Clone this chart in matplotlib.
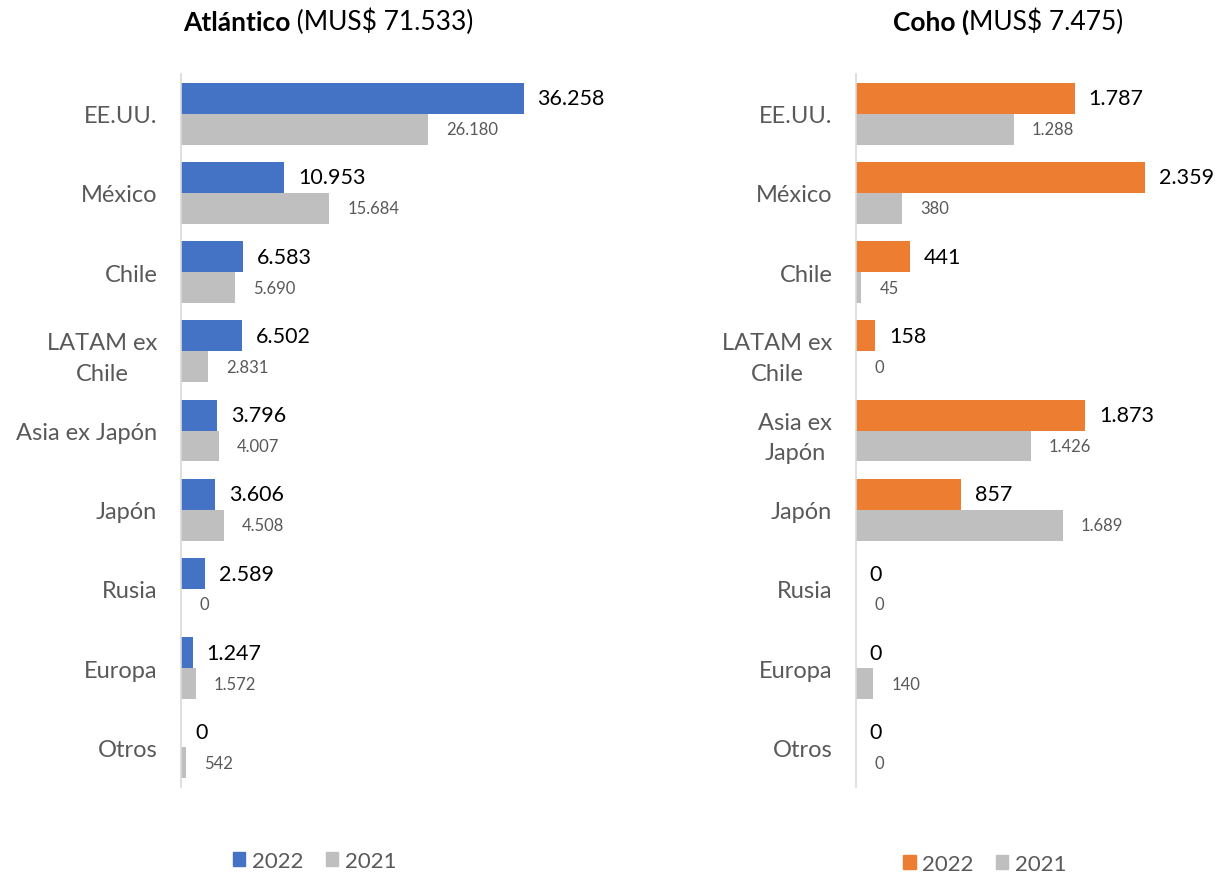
import matplotlib.pyplot as plt
import numpy as np
from matplotlib.patches import Patch

plt.rcParams['font.family'] = ['Lato', 'DejaVu Sans']

categories = ['EE.UU.', 'México', 'Chile', 'LATAM ex\nChile', 'Asia ex Japón',
              'Japón', 'Rusia', 'Europa', 'Otros']
categories_coho = ['EE.UU.', 'México', 'Chile', 'LATAM ex\nChile', 'Asia ex\nJapón',
                   'Japón', 'Rusia', 'Europa', 'Otros']
atl_2022 = [36258, 10953, 6583, 6502, 3796, 3606, 2589, 1247, 0]
atl_2021 = [26180, 15684, 5690, 2831, 4007, 4508, 0, 1572, 542]
coho_2022 = [1787, 2359, 441, 158, 1873, 857, 0, 0, 0]
coho_2021 = [1288, 380, 45, 0, 1426, 1689, 0, 140, 0]

BLUE = '#4472C4'
ORANGE = '#ED7D31'
GREY = '#BFBFBF'
TXT = '#595959'


def fmt(v):
    return f'{v:,}'.replace(',', '.')


def draw(ax, cats, v22, v21, color, xmax):
    y = np.arange(len(cats))
    h = 0.39
    b1 = ax.barh(y - h / 2, v22, height=h, color=color)
    b2 = ax.barh(y + h / 2, v21, height=h, color=GREY)
    ax.bar_label(b1, labels=[fmt(v) for v in v22], padding=10, fontsize=15.5, color='black')
    ax.bar_label(b2, labels=[fmt(v) for v in v21], padding=13, fontsize=12, color=TXT)
    ax.set_xlim(0, xmax)
    ax.set_ylim(len(cats) - 0.5, -0.5)
    ax.set_yticks(y)
    ax.set_yticklabels(cats, fontsize=17, color=TXT, ha='right', multialignment='center',
                       linespacing=1.55)
    ax.tick_params(axis='y', length=0, pad=17)
    ax.set_xticks([])
    for s in ['top', 'right', 'bottom']:
        ax.spines[s].set_visible(False)
    ax.spines['left'].set_color('#D9D9D9')
    ax.spines['left'].set_linewidth(1.2)


fig = plt.figure(figsize=(12.19, 8.78), dpi=100)
ax1 = fig.add_axes([0.1485, 0.1025, 0.310, 0.812])
ax2 = fig.add_axes([0.7022, 0.1025, 0.251, 0.812])

draw(ax1, categories, atl_2022, atl_2021, BLUE, 40000)
draw(ax2, categories_coho, coho_2022, coho_2021, ORANGE, 2500)

# titles: bold name + regular total
t1 = fig.text(0.150, 0.974, 'Atlántico', fontsize=19, weight='bold', va='center')
ax1.annotate(' (MUS$ 71.533)', xy=(1, 0), xycoords=t1, va='bottom', fontsize=19,
             annotation_clip=False)
t2 = fig.text(0.7326, 0.974, 'Coho (', fontsize=19, weight='bold', va='center')
ax2.annotate('MUS$ 7.475)', xy=(1, 0), xycoords=t2, va='bottom', fontsize=19,
             annotation_clip=False)

fig.legend(handles=[Patch(color=BLUE, label='2022'), Patch(color=GREY, label='2021')],
           loc='center', bbox_to_anchor=(0.258, 1 - 862 / 878), ncol=2, frameon=False,
           fontsize=16, labelcolor=TXT, handlelength=0.55, handleheight=0.55,
           handletextpad=0.3, columnspacing=1.0)
fig.legend(handles=[Patch(color=ORANGE, label='2022'), Patch(color=GREY, label='2021')],
           loc='center', bbox_to_anchor=(0.808, 1 - 865 / 878), ncol=2, frameon=False,
           fontsize=16, labelcolor=TXT, handlelength=0.55, handleheight=0.55,
           handletextpad=0.3, columnspacing=1.0)

fig.savefig('out.png', dpi=100)
